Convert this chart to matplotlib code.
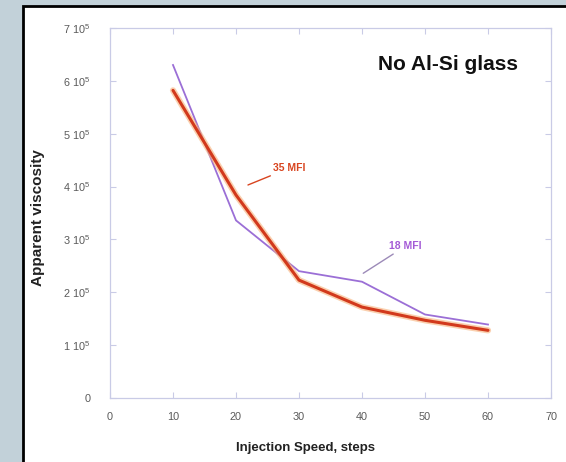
import matplotlib
matplotlib.use("Agg")
import matplotlib.pyplot as plt
from matplotlib.patches import Rectangle

plt.rcParams['font.family'] = ['Liberation Sans', 'DejaVu Sans']
plt.rcParams['mathtext.fontset'] = 'custom'
plt.rcParams['mathtext.rm'] = 'Liberation Sans'

# injection speed (steps) and apparent viscosity (x 1e5)
steps = [10, 20, 30, 40, 50, 60]
visc_18mfi = [6.30, 3.36, 2.40, 2.20, 1.58, 1.39]
visc_35mfi = [5.82, 3.84, 2.23, 1.72, 1.47, 1.28]

x_ticks = [0, 10, 20, 30, 40, 50, 60, 70]
y_ticks = [0, 1, 2, 3, 4, 5, 6, 7]
y_tick_labels = ['0'] + [r'$\mathregular{%d\ 10^5}$' % k for k in y_ticks[1:]]

W, H = 566, 462
fig = plt.figure(figsize=(W / 100, H / 100), dpi=100)
fig.patch.set_facecolor('#c2d1d9')

# white panel with black frame (right/bottom edges run off the canvas)
panel = Rectangle((22.5 / W, -0.1), 1.2, (462 - 6) / H + 0.1,
                  transform=fig.transFigure, facecolor='white',
                  edgecolor='black', linewidth=2.0, zorder=-5)
fig.patches.append(panel)

ax = fig.add_axes([110 / W, (H - 398) / H, 441 / W, 370 / H])
ax.set_zorder(1)
ax.set_facecolor('white')

scale = 1e5
v18 = [v * scale for v in visc_18mfi]
v35 = [v * scale for v in visc_35mfi]

ax.plot(steps, v18, color='#9b6fd6', lw=1.3, zorder=3)
ax.plot(steps, v35, color='#f7b27a', lw=4.5, alpha=0.6, zorder=4,
        solid_capstyle='round')
ax.plot(steps, v35, color='#d2391c', lw=2.2, zorder=5, solid_capstyle='round')

ax.set_xlim(0, 70)
ax.set_ylim(0, 7e5)
ax.set_xticks(x_ticks)
ax.set_xticklabels([str(t) for t in x_ticks])
ax.set_yticks([t * scale for t in y_ticks])
ax.set_yticklabels(y_tick_labels)

tick_col = '#c9cbe6'
for s in ax.spines.values():
    s.set_color(tick_col)
    s.set_linewidth(0.9)
ax.tick_params(direction='in', length=4, width=0.8, color=tick_col,
               top=True, right=True, labelsize=7.8, labelcolor='#5a5a5a')
ax.tick_params(axis='x', pad=10)
ax.tick_params(axis='y', pad=14)

ax.annotate('35 MFI', xy=(21.9, 4.03e5), xytext=(25.9, 4.35e5),
            color='#d8441f', fontsize=7.5, fontweight='bold', va='center',
            arrowprops=dict(arrowstyle='-', color='#d8441f', lw=1.0,
                            shrinkA=0, shrinkB=0))
ax.annotate('18 MFI', xy=(40.2, 2.36e5), xytext=(44.3, 2.87e5),
            color='#a45ad6', fontsize=7.5, fontweight='bold', va='center',
            arrowprops=dict(arrowstyle='-', color='#9c8ab8', lw=1.0,
                            shrinkA=0, shrinkB=0))

ax.text(53.6, 6.30e5, 'No Al-Si glass', ha='center', va='center',
        fontsize=15, fontweight='bold', color='#111111')

fig.text(306 / W, 1 - 448 / H, 'Injection Speed, steps', ha='center',
         va='center', fontsize=9.5, fontweight='bold', color='#222222')
fig.text(38 / W, 1 - 218 / H, 'Apparent viscosity', ha='center',
         va='center', rotation=90, fontsize=11, fontweight='bold',
         color='#222222')

fig.savefig('out.png', dpi=100, facecolor=fig.get_facecolor())
